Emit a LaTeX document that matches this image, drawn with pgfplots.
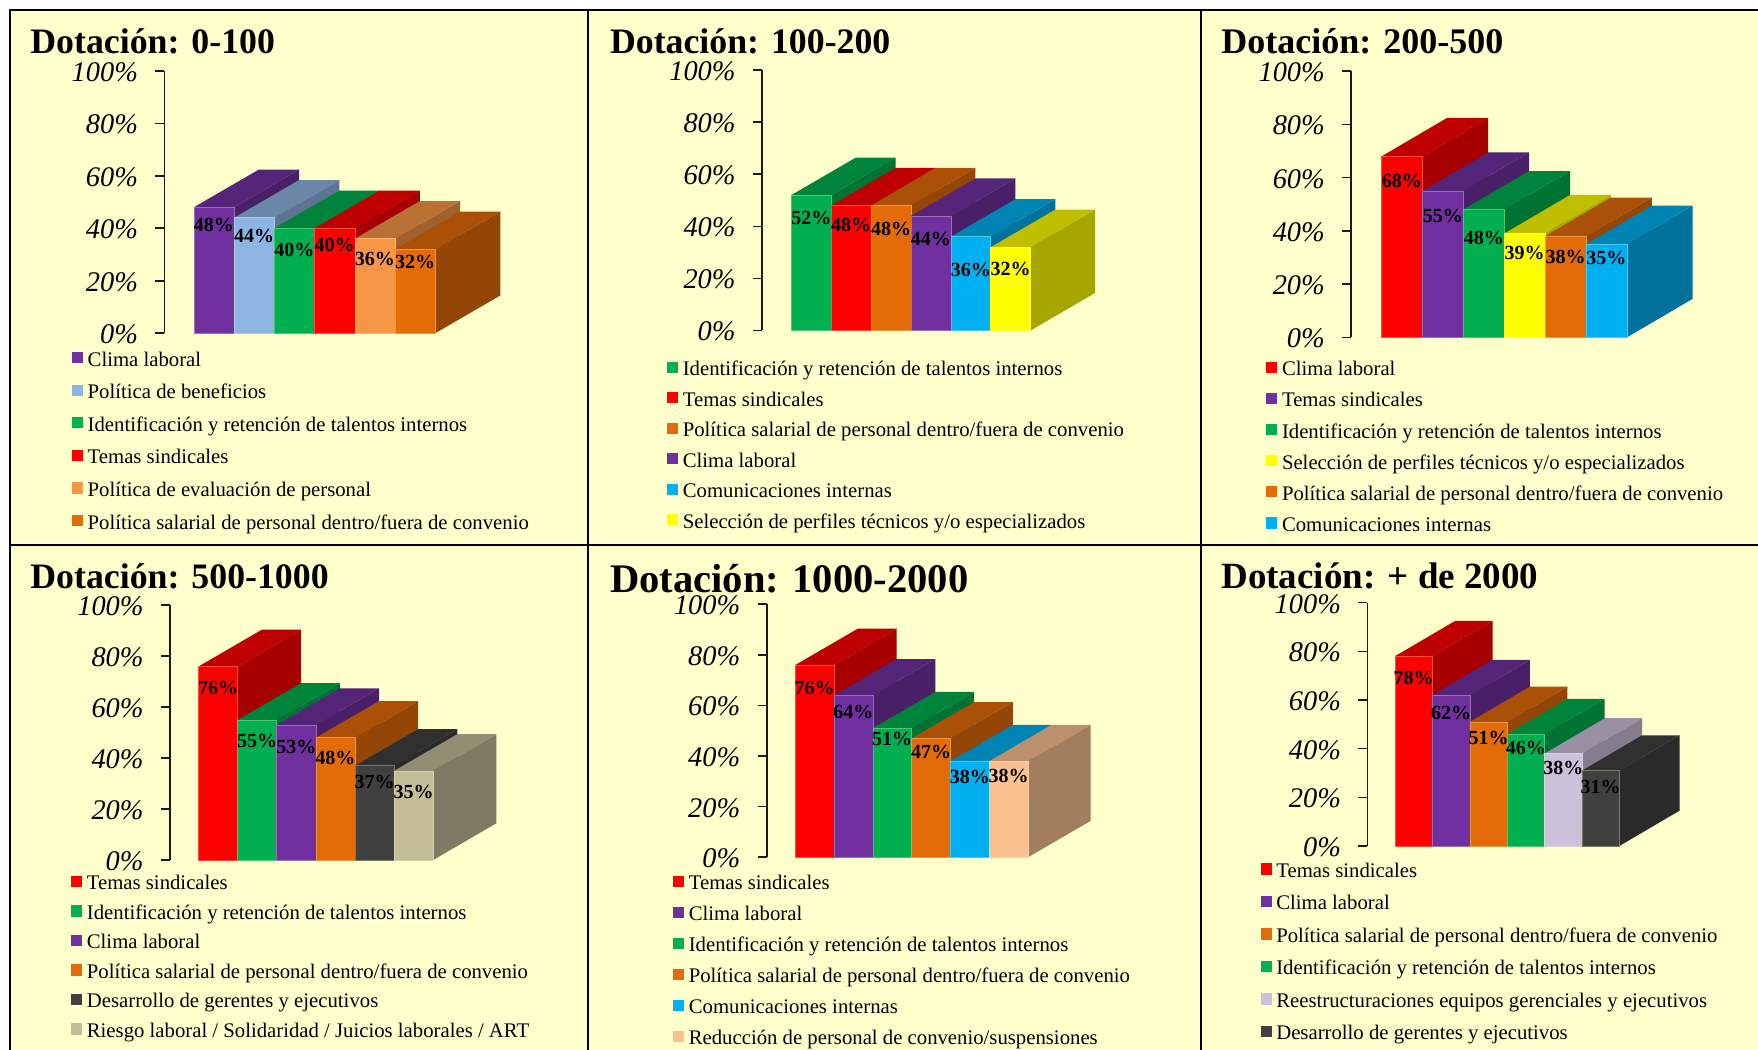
\documentclass[border=0pt]{standalone}
\usepackage{fontspec}
\setmainfont{Liberation Serif}
\usepackage{pgfplots}
\pgfplotsset{compat=1.18}
\definecolor{Bg}{HTML}{FFFFCC}
\definecolor{Cpurple}{HTML}{7030A0}
\definecolor{Cltblue}{HTML}{8DB4E2}
\definecolor{Cgreen}{HTML}{00B050}
\definecolor{Cred}{HTML}{FF0000}
\definecolor{Cltorange}{HTML}{F79646}
\definecolor{Corange}{HTML}{E36C09}
\definecolor{Ccyan}{HTML}{00B0F0}
\definecolor{Cyellow}{HTML}{FFFF00}
\definecolor{Cdark}{HTML}{404040}
\definecolor{Ctan}{HTML}{C4BD97}
\definecolor{Cpeach}{HTML}{FAC090}
\definecolor{Clav}{HTML}{CCC1DA}
\tikzset{lbl/.style={font=\bfseries\fontsize{10}{10}\selectfont,inner sep=0pt,text=black},
 ttl/.style={font=\bfseries\fontsize{18}{20}\selectfont,inner sep=0pt,anchor=base west}}
% 1 px of the reference = 0.5pt
\newcommand{\setpanel}[9]{% axis x, y100, y0, bar left, bar width, depth x, depth y, legend x, first legend row
 \pgfmathsetmacro{\pax}{#1*0.5}\pgfmathsetmacro{\pay}{(1050-#3)*0.5}
 \pgfmathsetmacro{\ph}{(#3-#2)*0.5}
 \pgfmathsetmacro{\pxmin}{-(#4-#1)/#5}
 \pgfmathsetmacro{\ddx}{#6/#5}
 \pgfmathsetmacro{\ddy}{#7/(#3-#2)*100}
 \pgfmathsetmacro{\pxmax}{6+\ddx}
 \pgfmathsetmacro{\pw}{(\pxmax-\pxmin)*#5*0.5}
 \pgfmathsetmacro{\lgx}{(#8-#1)*0.5/\pw}
 \pgfmathsetmacro{\lgy}{((#3-#9)*0.5+3.7)/\ph}
}
\newcommand{\cube}[3]{% index, value, colour
 \pgfmathsetmacro{\xa}{#1}\pgfmathsetmacro{\xb}{#1+1}
 \pgfmathsetmacro{\xc}{#1+\ddx}\pgfmathsetmacro{\xd}{#1+1+\ddx}
 \pgfmathsetmacro{\yt}{#2}\pgfmathsetmacro{\yb}{#2+\ddy}
 \edef\tmp{%
 \noexpand\addplot[fill=#3!65!black,draw=none,forget plot] coordinates {(\xb,0) (\xd,\ddy) (\xd,\yb) (\xb,\yt)} -- cycle;
 \noexpand\addplot[fill=#3!75!black,draw=none,forget plot] coordinates {(\xa,\yt) (\xb,\yt) (\xd,\yb) (\xc,\yb)} -- cycle;
 \noexpand\addplot[fill=#3,draw=#3!70!Bg,line width=0.3pt,forget plot] coordinates {(\xa,0) (\xb,0) (\xb,\yt) (\xa,\yt)} -- cycle;
 }\tmp
}
\newcommand{\lab}[3]{% index, value, label height
 \pgfmathsetmacro{\xm}{#1+0.5}
 \edef\tmp{\noexpand\node[lbl] at (axis cs:\xm,#3) {#2\noexpand\%};}\tmp
}
\newcommand{\leg}[2]{\addlegendimage{fill=#1}\addlegendentry{#2}}
\pgfplotsset{pan/.style={
 scale only axis,clip=false,hide x axis,axis y line*=left,
 width=\pw pt,height=\ph pt,at={(\pax pt,\pay pt)},anchor=south west,
 xmin=\pxmin,xmax=\pxmax,ymin=0,ymax=100,
 ytick={0,20,40,60,80,100},yticklabels={0\%,20\%,40\%,60\%,80\%,100\%},
 tick align=outside,major tick length=4.5pt,
 axis line style={line width=0.8pt,black!90},
 tick style={line width=0.8pt,black!90},
 yticklabel style={font=\itshape\fontsize{14.2}{15}\selectfont,inner sep=0pt,xshift=-8.5pt,yshift=-0.6pt},
 legend cell align=left,
 legend image code/.code={\fill[##1,draw=none] (0pt,-0.6pt) rectangle (5.6pt,5pt);\path (7.7pt,0pt);},
 legend style={at={(\lgx,\lgy)},anchor=north west,draw=none,fill=none,inner sep=0pt,outer sep=0pt,
   font=\fontsize{10.37}{11}\selectfont,
   nodes={inner sep=0pt,text height=7pt,text depth=3pt}},
}}
\begin{document}
\begin{tikzpicture}[x=0.5pt,y=0.5pt]
\useasboundingbox (0,0) rectangle (1758,1050);
\fill[white] (0,0) rectangle (1758,1050);
\fill[Bg] (10,0) rectangle (1758,1040);
\draw[black,line width=1pt] (1758,1040) -- (10,1040) -- (10,0);
\draw[black,line width=1pt] (588,1040) -- (588,0);
\draw[black,line width=1pt] (1201,1040) -- (1201,0);
\draw[black,line width=1pt] (10,505) -- (1758,505);
% Panel 1
\setpanel{164.4}{70.9}{333.2}{193.8}{40.25}{65}{37.7}{71.9}{359.5}
\begin{axis}[pan,legend style={row sep=6.3pt}]
\cube{0}{48}{Cpurple}\cube{1}{44}{Cltblue}\cube{2}{40}{Cgreen}\cube{3}{40}{Cred}\cube{4}{36}{Cltorange}\cube{5}{32}{Corange}
\lab{0}{48}{41.4}\lab{1}{44}{37}\lab{2}{40}{31.8}\lab{3}{40}{33.7}\lab{4}{36}{28.3}\lab{5}{32}{27}
\leg{Cpurple}{Clima laboral}
\leg{Cltblue}{Política de beneficios}
\leg{Cgreen}{Identificación y retención de talentos internos}
\leg{Cred}{Temas sindicales}
\leg{Cltorange}{Política de evaluación de personal}
\leg{Corange}{Política salarial de personal dentro/fuera de convenio}
\end{axis}
\node[ttl,font=\bfseries\fontsize{17.9}{20}\selectfont] at (30,996) {Dotación: 0-100};
% Panel 2
\setpanel{762}{70.2}{330.4}{791.3}{39.9}{64.5}{37.5}{667}{369}
\begin{axis}[pan,legend style={row sep=5.25pt}]
\cube{0}{52}{Cgreen}\cube{1}{48}{Cred}\cube{2}{48}{Corange}\cube{3}{44}{Cpurple}\cube{4}{36}{Ccyan}\cube{5}{32}{Cyellow}
\lab{0}{52}{43.1}\lab{1}{48}{40.7}\lab{2}{48}{39.1}\lab{3}{44}{35}\lab{4}{36}{23.2}\lab{5}{32}{23.6}
\leg{Cgreen}{Identificación y retención de talentos internos}
\leg{Cred}{Temas sindicales}
\leg{Corange}{Política salarial de personal dentro/fuera de convenio}
\leg{Cpurple}{Clima laboral}
\leg{Ccyan}{Comunicaciones internas}
\leg{Cyellow}{Selección de perfiles técnicos y/o especializados}
\end{axis}
\node[ttl,font=\bfseries\fontsize{17.9}{20}\selectfont] at (609.6,996) {Dotación: 100-200};
% Panel 3
\setpanel{1351.2}{71.2}{337.4}{1381.5}{40.9}{65.8}{38.6}{1266.2}{369.3}
\begin{axis}[pan,legend style={row sep=5.55pt}]
\cube{0}{68}{Cred}\cube{1}{55}{Cpurple}\cube{2}{48}{Cgreen}\cube{3}{39}{Cyellow}\cube{4}{38}{Corange}\cube{5}{35}{Ccyan}
\lab{0}{68}{58.6}\lab{1}{55}{45.5}\lab{2}{48}{37.2}\lab{3}{39}{31.6}\lab{4}{38}{30.3}\lab{5}{35}{29.9}
\leg{Cred}{Clima laboral}
\leg{Cpurple}{Temas sindicales}
\leg{Cgreen}{Identificación y retención de talentos internos}
\leg{Cyellow}{Selección de perfiles técnicos y/o especializados}
\leg{Corange}{Política salarial de personal dentro/fuera de convenio}
\leg{Ccyan}{Comunicaciones internas}
\end{axis}
\node[ttl] at (1221,996) {Dotación: 200-500};
% Panel 4
\setpanel{170}{605.3}{860}{198.6}{39.1}{63.2}{36.7}{71.1}{883.3}
\begin{axis}[pan,legend style={row sep=4.75pt}]
\cube{0}{76}{Cred}\cube{1}{55}{Cgreen}\cube{2}{53}{Cpurple}\cube{3}{48}{Corange}\cube{4}{37}{Cdark}\cube{5}{35}{Ctan}
\lab{0}{76}{67.4}\lab{1}{55}{46.9}\lab{2}{53}{44.5}\lab{3}{48}{39.9}\lab{4}{37}{30.5}\lab{5}{35}{26.8}
\leg{Cred}{Temas sindicales}
\leg{Cgreen}{Identificación y retención de talentos internos}
\leg{Cpurple}{Clima laboral}
\leg{Corange}{Política salarial de personal dentro/fuera de convenio}
\leg{Cdark}{Desarrollo de gerentes y ejecutivos}
\leg{Ctan}{Riesgo laboral / Solidaridad / Juicios laborales / ART}
\end{axis}
\node[ttl,font=\bfseries\fontsize{17.9}{20}\selectfont] at (30,461) {Dotación: 500-1000};
% Panel 5
\setpanel{766.7}{604.3}{857.3}{795.2}{38.8}{62.5}{36.3}{673}{883.3}
\begin{axis}[pan,legend style={row sep=5.5pt}]
\cube{0}{76}{Cred}\cube{1}{64}{Cpurple}\cube{2}{51}{Cgreen}\cube{3}{47}{Corange}\cube{4}{38}{Ccyan}\cube{5}{38}{Cpeach}
\lab{0}{76}{66.8}\lab{1}{64}{57.6}\lab{2}{51}{46.6}\lab{3}{47}{41.5}\lab{4}{38}{31.6}\lab{5}{38}{32.3}
\leg{Cred}{Temas sindicales}
\leg{Cpurple}{Clima laboral}
\leg{Cgreen}{Identificación y retención de talentos internos}
\leg{Corange}{Política salarial de personal dentro/fuera de convenio}
\leg{Ccyan}{Comunicaciones internas}
\leg{Cpeach}{Reducción de personal de convenio/suspensiones}
\end{axis}
\node[ttl,font=\bfseries\fontsize{20.3}{22}\selectfont] at (609.6,457) {Dotación: 1000-2000};
% Panel 6
\setpanel{1367.3}{602.7}{846}{1395}{37.4}{60.1}{35.3}{1260.5}{870.7}
\begin{axis}[pan,legend style={row sep=6.25pt}]
\cube{0}{78}{Cred}\cube{1}{62}{Cpurple}\cube{2}{51}{Corange}\cube{3}{46}{Cgreen}\cube{4}{38}{Clav}\cube{5}{31}{Cdark}
\lab{0}{78}{68.9}\lab{1}{62}{54.5}\lab{2}{51}{44.2}\lab{3}{46}{40.1}\lab{4}{38}{31.9}\lab{5}{31}{24.4}
\leg{Cred}{Temas sindicales}
\leg{Cpurple}{Clima laboral}
\leg{Corange}{Política salarial de personal dentro/fuera de convenio}
\leg{Cgreen}{Identificación y retención de talentos internos}
\leg{Clav}{Reestructuraciones equipos gerenciales y ejecutivos}
\leg{Cdark}{Desarrollo de gerentes y ejecutivos}
\end{axis}
\node[ttl,font=\bfseries\fontsize{18.5}{20}\selectfont] at (1221,461) {Dotación: + de 2000};
\end{tikzpicture}
\end{document}
